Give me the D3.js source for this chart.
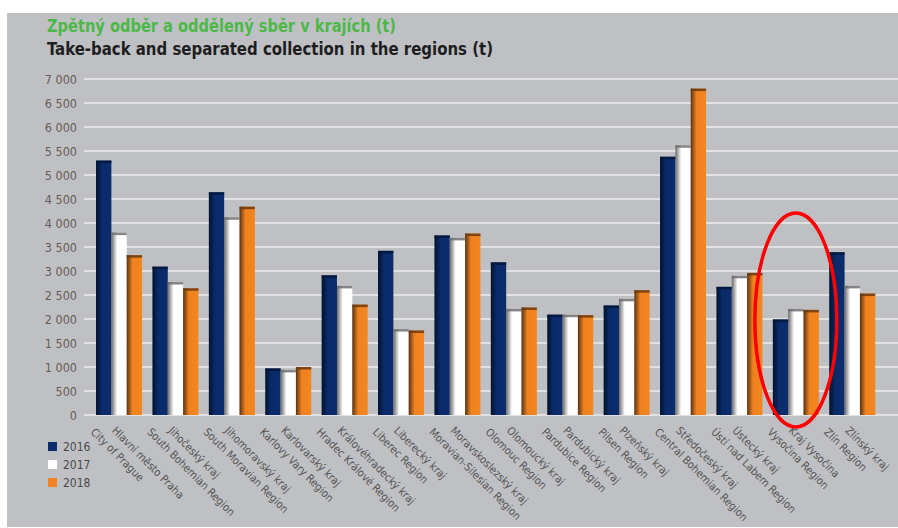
<!DOCTYPE html>
<html>
<head>
<meta charset="utf-8">
<script src="https://cdn.jsdelivr.net/npm/d3@7"></script>
<style>
  html, body { margin: 0; padding: 0; background: #ffffff; }
  svg { display: block; }
</style>
</head>
<body>
<svg id="chart" width="898" height="528"></svg>
<script>
// ---- data ----
const regionsCz = ["Hlavní město Praha","Jihočeský kraj","Jihomoravský kraj","Karlovarský kraj","Královéhradecký kraj","Liberecký kraj","Moravskoslezský kraj","Olomoucký kraj","Pardubický kraj","Plzeňský kraj","Středočeský kraj","Ústecký kraj","Kraj Vysočina","Zlínský kraj"];
const regionsEn = ["City of Prague","South Bohemian Region","South Moravian Region","Karlovy Vary Region","Hradec Králové Region","Liberec Region","Moravian-Silesian Region","Olomouc Region","Pardubice Region","Pilsen Region","Central Bohemian Region","Ústí nad Labem Region","Vysočina Region","Zlín Region"];
const years = ["2016","2017","2018"];
const values2016 = [5300, 3090, 4640, 970, 2910, 3420, 3740, 3180, 2090, 2280, 5380, 2670, 1990, 3390];
const values2017 = [3800, 2770, 4120, 940, 2690, 1790, 3690, 2210, 2090, 2420, 5620, 2900, 2210, 2690];
const values2018 = [3330, 2640, 4340, 1000, 2300, 1760, 3780, 2240, 2080, 2600, 6800, 2960, 2190, 2530];
const yTicks = [0, 500, 1000, 1500, 2000, 2500, 3000, 3500, 4000, 4500, 5000, 5500, 6000, 6500, 7000];
const yTickLabels = ["0","500","1 000","1 500","2 000","2 500","3 000","3 500","4 000","4 500","5 000","5 500","6 000","6 500","7 000"];
const titleCz = "Zpětný odběr a oddělený sběr v krajích (t)";
const titleEn = "Take-back and separated collection in the regions (t)";

const seriesValues = [values2016, values2017, values2018];
const rows = regionsCz.map((r, i) => ({ region: r, en: regionsEn[i], vals: years.map((y, k) => ({ year: y, value: seriesValues[k][i] })) }));

// ---- styles ----
const colors = {
  "2016": { g0: "#00122c", g1: "#0a2b6a", g2: "#0b2d6e", top: "#00183a", legend: "#0b2d6e" },
  "2017": { g0: "#6a6a6a", g1: "#ffffff", g2: "#ffffff", top: "#6e6e6e", legend: "#ffffff" },
  "2018": { g0: "#5a3210", g1: "#ef8220", g2: "#f4861f", top: "#6a3a10", legend: "#f28322" }
};

const svg = d3.select("#chart");
const W = 898, H = 528;

// background
svg.append("rect").attr("x", 7).attr("y", 13).attr("width", W - 7).attr("height", H - 14).attr("fill", "#bfc0c4");

const defs = svg.append("defs");
years.forEach(y => {
  const g = defs.append("linearGradient").attr("id", "grad" + y).attr("x1", "0").attr("x2", "1").attr("y1", "0").attr("y2", "0");
  g.append("stop").attr("offset", "0%").attr("stop-color", colors[y].g0);
  g.append("stop").attr("offset", "38%").attr("stop-color", colors[y].g1);
  g.append("stop").attr("offset", "100%").attr("stop-color", colors[y].g2);
});

// scales
const y = d3.scaleLinear().domain([0, 7000]).range([415, 79]);
const x0 = d3.scaleBand().domain(regionsCz).range([90.4, 880.9]).paddingInner(0.184).paddingOuter(0.1);
const x1 = d3.scaleBand().domain(years).range([0, x0.bandwidth()]);

// titles
svg.append("text").attr("x", 47).attr("y", 32)
  .attr("font-family", "'Liberation Sans Narrow','DejaVu Sans Condensed','Roboto',sans-serif")
  .attr("font-weight", "bold").attr("font-size", 18).attr("fill", "#4db848")
  .attr("textLength", 349).attr("lengthAdjust", "spacingAndGlyphs")
  .text(titleCz);
svg.append("text").attr("x", 47).attr("y", 55)
  .attr("font-family", "'Liberation Sans Narrow','DejaVu Sans Condensed','Roboto',sans-serif")
  .attr("font-weight", "bold").attr("font-size", 18).attr("fill", "#1e1e1e")
  .attr("textLength", 446).attr("lengthAdjust", "spacingAndGlyphs")
  .text(titleEn);

// gridlines
svg.append("g").selectAll("line").data(yTicks).join("line")
  .attr("x1", 84).attr("x2", W).attr("y1", d => y(d)).attr("y2", d => y(d))
  .attr("stroke", "#ececec").attr("stroke-width", 1.6);

// y axis labels
const yAxis = d3.axisLeft(y).tickValues(yTicks).tickFormat((d, i) => yTickLabels[i]).tickSize(0).tickPadding(0);
const ya = svg.append("g").attr("transform", "translate(77,0)").call(yAxis);
ya.select(".domain").remove();
ya.selectAll("text").attr("font-family", "'Liberation Sans Narrow','DejaVu Sans Condensed',sans-serif")
  .attr("font-size", 12.5).attr("fill", "#675c54").attr("dy", "0.35em");

// bars
const groups = svg.append("g").selectAll("g").data(rows).join("g")
  .attr("transform", d => `translate(${x0(d.region)},0)`);
groups.selectAll("rect.bar").data(d => d.vals).join("rect").attr("class", "bar")
  .attr("x", d => x1(d.year)).attr("width", x1.bandwidth())
  .attr("y", d => y(d.value)).attr("height", d => y(0) - y(d.value))
  .attr("fill", d => `url(#grad${d.year})`);
groups.selectAll("rect.top").data(d => d.vals).join("rect").attr("class", "top")
  .attr("x", d => x1(d.year)).attr("width", x1.bandwidth())
  .attr("y", d => y(d.value)).attr("height", 2.5)
  .attr("fill", d => colors[d.year].top).attr("opacity", 0.85);

// x labels
const lab = svg.append("g").selectAll("text").data(rows).join("text")
  .attr("transform", d => `translate(${x0(d.region) + x0.bandwidth() / 2},415) rotate(45)`)
  .attr("font-family", "'DejaVu Sans Condensed','Liberation Sans',sans-serif")
  .attr("font-size", 11).attr("fill", "#555555");
lab.append("tspan").attr("x", 6).attr("y", 17).text(d => d.region);
lab.append("tspan").attr("x", -8).attr("y", 33).text(d => d.en);

// legend
const leg = svg.append("g").selectAll("g").data(years).join("g")
  .attr("transform", (d, i) => `translate(48,${442 + i * 18})`);
leg.append("rect").attr("width", 9).attr("height", 9).attr("fill", d => colors[d].legend);
leg.append("text").attr("x", 15).attr("y", 9)
  .attr("font-family", "'Liberation Sans Narrow','DejaVu Sans Condensed',sans-serif")
  .attr("font-size", 12).attr("fill", "#4a4a4a").text(d => d);

// annotation ellipse (highlight Vysočina)
const vx = x0("Kraj Vysočina") + x0.bandwidth() / 2;
svg.append("ellipse").attr("cx", vx).attr("cy", 320).attr("rx", 41).attr("ry", 107)
  .attr("fill", "none").attr("stroke", "#ff0000").attr("stroke-width", 3.5);
</script>
</body>
</html>
